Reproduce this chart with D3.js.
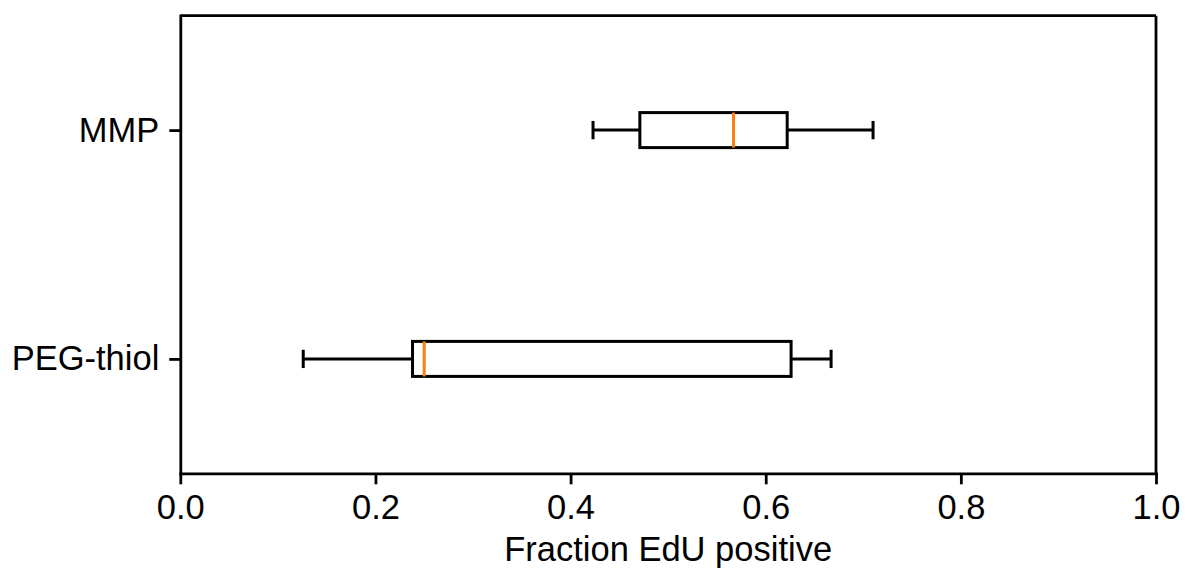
<!DOCTYPE html>
<html>
<head>
<meta charset="utf-8">
<script src="https://cdn.jsdelivr.net/npm/d3@7"></script>
<style>
  body { margin: 0; background: #fff; }
  svg { display: block; font-family: "Liberation Sans", Arial, sans-serif; }
  .axis text { font-size: 34.5px; fill: #000; }
  .axis path, .axis line { stroke: #000; stroke-width: 2.8; }
</style>
</head>
<body>
<script>
// groups, bottom to top as in the plot
const groups = ["PEG-thiol", "MMP"];
const whiskerLow = [0.126, 0.423];
const q1 = [0.238, 0.471];
const median = [0.250, 0.567];
const q3 = [0.626, 0.622];
const whiskerHigh = [0.667, 0.710];
const xTicks = [0.0, 0.2, 0.4, 0.6, 0.8, 1.0];

const width = 1185, height = 570;
const margin = {top: 15.7, right: 29, bottom: 96.7, left: 180.3};
const innerWidth = width - margin.left - margin.right;
const innerHeight = height - margin.top - margin.bottom;

const svg = d3.select("body").append("svg")
  .attr("width", width)
  .attr("height", height);

const g = svg.append("g")
  .attr("transform", "translate(" + margin.left + "," + margin.top + ")");

const x = d3.scaleLinear().domain([0, 1]).range([0, innerWidth]);
// positions 1..n like matplotlib, limits 0.5..n+0.5
const y = d3.scaleLinear().domain([0.5, groups.length + 0.5]).range([innerHeight, 0]);

const boxH = y(0) - y(0.153);
const capH = y(0) - y(0.08);
const lw = 3;

const data = groups.map((name, i) => ({
  name: name, pos: i + 1,
  lo: whiskerLow[i], q1: q1[i], med: median[i], q3: q3[i], hi: whiskerHigh[i]
}));

const box = g.selectAll(".box").data(data).enter().append("g").attr("class", "box");

// whiskers
box.append("line")
  .attr("x1", d => x(d.lo)).attr("x2", d => x(d.q1))
  .attr("y1", d => y(d.pos)).attr("y2", d => y(d.pos))
  .attr("stroke", "#000").attr("stroke-width", lw);
box.append("line")
  .attr("x1", d => x(d.q3)).attr("x2", d => x(d.hi))
  .attr("y1", d => y(d.pos)).attr("y2", d => y(d.pos))
  .attr("stroke", "#000").attr("stroke-width", lw);
// caps
box.append("line")
  .attr("x1", d => x(d.lo)).attr("x2", d => x(d.lo))
  .attr("y1", d => y(d.pos) - capH / 2).attr("y2", d => y(d.pos) + capH / 2)
  .attr("stroke", "#000").attr("stroke-width", lw);
box.append("line")
  .attr("x1", d => x(d.hi)).attr("x2", d => x(d.hi))
  .attr("y1", d => y(d.pos) - capH / 2).attr("y2", d => y(d.pos) + capH / 2)
  .attr("stroke", "#000").attr("stroke-width", lw);
// box
box.append("rect")
  .attr("x", d => x(d.q1))
  .attr("width", d => x(d.q3) - x(d.q1))
  .attr("y", d => y(d.pos) - boxH / 2)
  .attr("height", boxH)
  .attr("fill", "none").attr("stroke", "#000").attr("stroke-width", lw);
// median
box.append("line")
  .attr("x1", d => x(d.med)).attr("x2", d => x(d.med))
  .attr("y1", d => y(d.pos) - boxH / 2).attr("y2", d => y(d.pos) + boxH / 2)
  .attr("stroke", "#ff7f0e").attr("stroke-width", lw);

// axes
g.append("g")
  .attr("class", "axis")
  .attr("transform", "translate(0," + innerHeight + ")")
  .call(d3.axisBottom(x).tickValues(xTicks).tickFormat(d3.format(".1f"))
    .tickSize(11).tickPadding(10).tickSizeOuter(0));

g.append("g")
  .attr("class", "axis")
  .call(d3.axisLeft(y).tickValues(data.map(d => d.pos))
    .tickFormat((d, i) => groups[i]).tickSize(11).tickPadding(10).tickSizeOuter(0));

// top and right spines
g.append("line").attr("x1", 0).attr("x2", innerWidth).attr("y1", 0).attr("y2", 0)
  .attr("stroke", "#000").attr("stroke-width", 2.8);
g.append("line").attr("x1", innerWidth).attr("x2", innerWidth).attr("y1", 0).attr("y2", innerHeight)
  .attr("stroke", "#000").attr("stroke-width", 2.8);

g.selectAll(".axis .domain").attr("stroke-linecap", "square");

svg.append("text")
  .attr("x", margin.left + innerWidth / 2)
  .attr("y", 561)
  .attr("text-anchor", "middle")
  .style("font-size", "34.5px")
  .text("Fraction EdU positive");
</script>
</body>
</html>
